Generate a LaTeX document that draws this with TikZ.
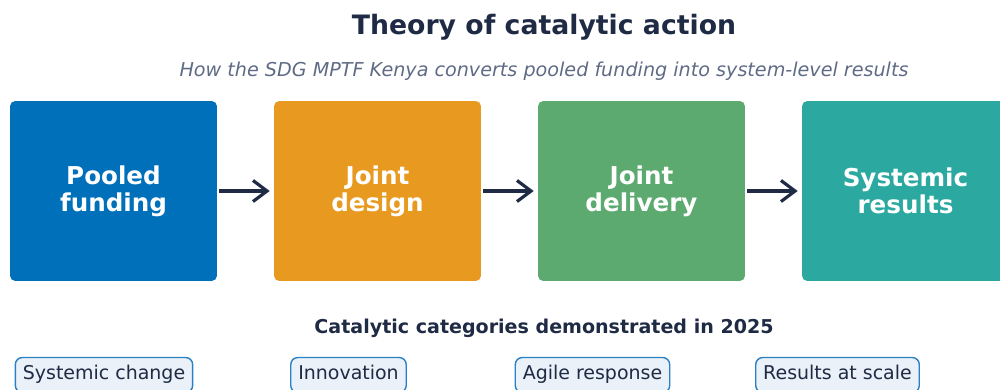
\documentclass[tikz,border=0pt]{standalone}
\usepackage{fontspec}
\setmainfont{DejaVu Sans}
\usetikzlibrary{arrows.meta}

\definecolor{ink}{HTML}{1F2A44}
\definecolor{subgrey}{HTML}{5F6B85}
\definecolor{poolblue}{HTML}{0070BA}
\definecolor{designorange}{HTML}{E89A20}
\definecolor{deliverygreen}{HTML}{5CAA6F}
\definecolor{resultteal}{HTML}{2BA8A0}
\definecolor{pillfill}{HTML}{EAF1F8}
\definecolor{pillline}{HTML}{2A80C4}

\begin{document}
\begin{tikzpicture}[x=0.02cm, y=-0.02cm,
	stage/.style={rounded corners=3pt, minimum width=4.14cm, minimum height=3.6cm, inner sep=0pt,
		text=white, align=center, font=\fontsize{14}{15.5}\selectfont\bfseries},
	pill/.style={draw=pillline, fill=pillfill, rounded corners=4pt, line width=0.8pt,
		minimum height=0.7cm, text height=0.75em, text depth=0.22em, inner xsep=0.15cm,
		text=ink, font=\fontsize{10.8}{13}\selectfont},
	flow/.style={-{Straight Barb[length=8pt, width=12pt]}, line width=1.8pt, draw=ink,
		shorten <=0.04cm, shorten >=0.08cm}]
	\useasboundingbox (0,0) rectangle (1000,389);
	\clip (0,0) rectangle (1000,389);
	
	% title and subtitle
	\node[text=ink, font=\fontsize{15.2}{18}\selectfont\bfseries] (title) at (544,27) {Theory of catalytic action};
	\node[text=subgrey, font=\fontsize{10.9}{13}\selectfont\itshape] (subtitle) at (544,71) {How the SDG MPTF Kenya converts pooled funding into system-level results};
	
	% the four stages
	\node[stage, fill=poolblue] (pool) at (113.5,191) {Pooled\\funding};
	\node[stage, fill=designorange] (design) at (377.5,191) {Joint\\design};
	\node[stage, fill=deliverygreen] (delivery) at (641.5,191) {Joint\\delivery};
	\node[stage, fill=resultteal] (results) at (905.5,191) {Systemic\\results};
	
	\draw[flow] (pool) -- (design);
	\draw[flow] (design) -- (delivery);
	\draw[flow] (delivery) -- (results);
	
	% categories
	\node[text=ink, font=\fontsize{10.85}{13}\selectfont\bfseries] (cathead) at (544,328) {Catalytic categories demonstrated in 2025};
	\node[pill] (systemic) at (104,375) {Systemic change};
	\node[pill] (innov) at (348.5,375) {Innovation};
	\node[pill] (agile) at (592.5,375) {Agile response};
	\node[pill] (scale) at (837.5,375) {Results at scale};
\end{tikzpicture}
\end{document}
